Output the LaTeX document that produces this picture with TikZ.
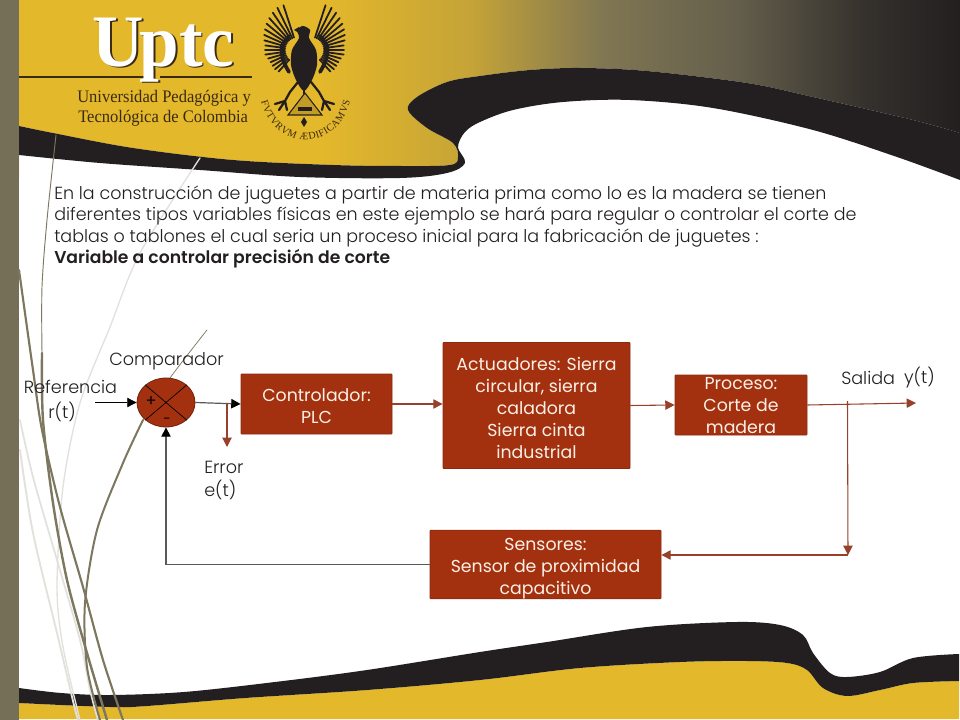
\documentclass[tikz,border=0pt]{standalone}
\usepackage{fontspec}
\setmainfont{Poppins}[UprightFont=* Light,BoldFont=* SemiBold]
\newfontfamily\boxfont{Poppins}
\newfontfamily\logoserif{Liberation Serif}
\newfontfamily\logocond[FakeStretch=0.94]{Liberation Serif}
\newfontfamily\logobold[FakeStretch=0.96]{Liberation Serif Bold}
\usetikzlibrary{shapes.geometric,arrows.meta,decorations.text}
\definecolor{barolive}{HTML}{756F57}
\definecolor{ylw}{HTML}{E4B82B}
\definecolor{ink}{HTML}{231F20}
\definecolor{brick}{HTML}{A3310F}
\definecolor{wire}{HTML}{97402A}
\definecolor{boxtxt}{HTML}{FBF0E6}
\definecolor{wispd}{HTML}{7D7760}
\definecolor{wispl}{HTML}{E2E1DC}
\definecolor{logotxt}{HTML}{3B2A12}
\pgfdeclarehorizontalshading{bannershade}{100bp}{color(0bp)=(ylw);color(41bp)=(ylw);color(49bp)=(ylw!72!barolive);color(56bp)=(barolive!90!ylw);color(63bp)=(barolive!80!ink);color(70bp)=(ink!78!barolive);color(75bp)=(ink);color(100bp)=(ink)}
\tikzset{
  blk/.style={draw=brick!85!black,fill=brick,line width=.6pt,text=boxtxt,align=center,inner sep=0pt,rounded corners=.5pt,font=\boxfont\fontsize{13pt}{16.5pt}\selectfont},
  lbl/.style={text=ink,inner sep=0pt,align=center,font=\fontsize{13.2pt}{17pt}\selectfont},
  tip/.style={-{Triangle[length=7pt,width=7pt]}},
  redw/.style={tip,draw=wire,line width=.8pt},
  darkw/.style={draw=black!65,line width=.9pt,-{Triangle[length=7pt,width=7pt,color=black]}},
  wdark/.style={draw=wispd,line cap=round},
  wlight/.style={draw=wispl,line cap=round},
  feather/.style={draw=ink,line width=1.35pt,line cap=round},
}
\begin{document}
\begin{tikzpicture}[x=.75pt,y=-.75pt]
\useasboundingbox (0,0) rectangle (960,720);
\fill[white] (0,0) rectangle (960,720);
% top banner
\shade[shading=bannershade] (19,0) -- (960,0) -- (960,178) -- (960,133)
  -- plot[smooth,tension=.55] coordinates {(960,133)(913,120)(813,97)(747,83)(647,71)(580,68)(530,70)(480,76)(447,82)(417,97)(408,110)(427,128)(453,143)(458,157)(450,165)(400,166)(333,165)(233,160)(133,148)(53,133)(19,126)} -- (19,178) -- cycle;
\fill[ink] plot[smooth,tension=.55] coordinates {(19,126)(53,133)(133,148)(233,160)(333,165)(400,166)(450,165)(458,157)(453,143)(427,128)(408,110)(417,97)(447,82)(480,76)(530,70)(580,68)(647,71)(747,83)(813,97)(913,120)(960,133)}
  -- plot[smooth,tension=.55] coordinates {(960,180)(897,157)(813,130)(713,108)(630,100)(563,102)(513,110)(480,122)(465,132)(458,147)(465,163)(447,173)(400,178)(300,177)(200,170)(100,163)(19,155)} -- cycle;
% bottom banner
\fill[ylw] (19,719) -- (19,703) -- plot[smooth,tension=.55] coordinates {(19,703)(110,707)(147,706)(245,698)(367,690)(480,680)(580,668)(680,662)(747,661)(787,663)(807,670)(823,688)(847,696)(880,690)(913,683)(959,681)} -- (959,719) -- cycle;
\fill[ink] plot[smooth,tension=.55] coordinates {(19,688)(61,693)(110,695)(184,692)(275,682)(367,670)(480,652)(547,642)(647,627)(737,622)(780,625)(803,635)(813,653)(830,673)(847,677)(880,672)(913,658)(959,654)}
  -- plot[smooth,tension=.55] coordinates {(959,681)(913,683)(880,690)(847,696)(823,688)(807,670)(787,663)(747,661)(680,662)(580,668)(480,680)(367,690)(245,698)(147,706)(110,707)(19,703)} -- cycle;
% left bar
\fill[barolive] (0,0) rectangle (19,720);
% wisps
\draw[wlight,line width=1pt] plot[smooth] coordinates {(200,158)(140,253)(110,327)(80,403)(63,487)(57,587)(63,647)(80,720)};
\draw[wlight,line width=1.3pt] plot[smooth] coordinates {(20,420)(33,477)(57,560)(80,640)(90,690)(98,720)};
\draw[wlight,line width=1.4pt] plot[smooth] coordinates {(20,450)(33,533)(57,633)(76,713)(80,720)};
\draw[wdark,line width=.7pt] plot[smooth] coordinates {(56,135)(47,220)(42,287)(42,353)};
\draw[wdark,line width=1.8pt] plot[smooth] coordinates {(42,353)(43,420)(53,503)(67,580)(87,653)(107,720)};
\draw[wdark,line width=1.6pt] plot[smooth] coordinates {(19,270)(33,370)(42,430)(60,507)(83,587)(103,660)(123,720)};
\draw[wdark,line width=.55pt] plot[smooth] coordinates {(207,330)(170,378)(143,420)};
\draw[wdark,line width=1.5pt] plot[smooth] coordinates {(143,420)(123,463)(97,530)(85,603)(87,667)(100,720)};
% logo
\draw[logotxt,line width=2pt] (19,77) -- (145,77) (160,77) -- (252,77);
\node[anchor=base west,inner sep=0pt,text=logotxt,font=\logobold\fontsize{55.5pt}{56pt}\selectfont] (uptcs) at (94,68) {U\kern-.06em ptc};
\node[anchor=base west,inner sep=0pt,text=white,font=\logobold\fontsize{55.5pt}{56pt}\selectfont] (uptc) at (92.5,66.5) {U\kern-.06em ptc};
\node[anchor=base west,inner sep=0pt,text=logotxt,font=\logocond\fontsize{13.2pt}{14pt}\selectfont] (univa) at (77,103) {Universidad Pedagógica y};
\node[anchor=base west,inner sep=0pt,text=logotxt,font=\logocond\fontsize{13.2pt}{14pt}\selectfont] (univb) at (78,123) {Tecnológica de Colombia};
% eagle
\foreach \a/\r in {108/47,116/47,124/45,132/43,140/41,148/39,156/37,164/35,172/33,180/33,188/33,196/31,204/30,212/30,220/30,228/29}{
  \draw[feather] ({298+13*cos(\a)},{50-13*sin(\a)}) -- ({298+\r*cos(\a)},{50-\r*sin(\a)});
  \draw[feather] ({311-13*cos(\a)},{50-13*sin(\a)}) -- ({311-\r*cos(\a)},{50-\r*sin(\a)});
}
\fill[ink] plot[smooth cycle,tension=.5] coordinates {(303,26)(297,30)(299,38)(292,50)(291,65)(296,80)(304,91)(312,80)(317,65)(316,50)(309,38)(310,30)};
\fill[ink] (299,27) -- (294,30) -- (299,33) -- cycle;
\draw[ink,line width=2.8pt,line cap=round] plot[smooth] coordinates {(289,36)(282,46)(283,60)(289,72)};
\draw[ink,line width=2.8pt,line cap=round] plot[smooth] coordinates {(320,36)(327,46)(326,60)(320,72)};
\draw[ink,line width=1.7pt,line cap=round] (298,82) -- (290,92) -- (285,101) (285,101) -- (275,104) (285,101) -- (279,110) (285,101) -- (287,110);
\draw[ink,line width=1.7pt,line cap=round] (311,82) -- (319,92) -- (324,101) (324,101) -- (334,104) (324,101) -- (330,110) (324,101) -- (322,110);
\draw[ink,line width=.9pt] (304,88) -- (304,94);
\draw[ink,line width=.8pt,fill=ylw!85!black] (305,93) -- (288,115) -- (322,115) -- cycle;
\fill[ink] (298,107) rectangle (312,111);
\fill[ink] (304,117) -- (301,122) -- (304,127) -- (307,122) -- cycle;
\path[postaction={decorate,decoration={text along path,text align=center,reverse path=false,raise=-3pt,
  text={|\logoserif\fontsize{7.6pt}{8pt}\selectfont\color{logotxt}|FVTVRVM ÆDIFICAMVS}}}]
  (264,96) .. controls (270,126) and (292,136) .. (305,136) .. controls (320,136) and (342,126) .. (347,96);
% body text
\node[anchor=north west,inner sep=0pt,text=ink,align=left,font=\fontsize{13.13pt}{16.1pt}\selectfont] (para) at (54,185.5) {En la construcción de juguetes a partir de materia prima como lo es la madera se tienen\\diferentes tipos variables físicas en este ejemplo se hará para regular o controlar el corte de\\tablas o tablones el cual seria un proceso inicial para la fabricación de juguetes :\\{\fontsize{12.9pt}{16.1pt}\selectfont\textbf{Variable a controlar precisión de corte}}};
% diagram
\node[ellipse,draw=brick!70!black,fill=brick,line width=.6pt,minimum width=43.5pt,minimum height=36.75pt,inner sep=0pt] (cmp) at (166,402.5) {};
\draw[black,line width=.5pt] (cmp.north west) -- (cmp.south east) (cmp.north east) -- (cmp.south west);
\node[lbl,text=black,font=\boxfont\fontsize{12pt}{12pt}\selectfont] (plus) at (151,402) {+};
\node[lbl,text=black,font=\boxfont\fontsize{10pt}{10pt}\selectfont] (minus) at (167,421) {-};
\node[blk,minimum width=113.25pt,minimum height=45pt] (ctrl) at (316.5,404) {\rule{0pt}{13pt}Controlador:\\PLC};
\node[blk,minimum width=140.25pt,minimum height=94.5pt] (act) at (536.5,405.5) {\rule{0pt}{13pt}Actuadores: Sierra\\circular, sierra\\caladora\\Sierra cinta\\industrial};
\node[blk,minimum width=99pt,minimum height=45pt] (proc) at (741,405) {};
\node[lbl,text=boxtxt,font=\boxfont\fontsize{13pt}{16.5pt}\selectfont] (proct) at (741,405.5) {Proceso:\\Corte de\\madera};
\node[blk,minimum width=173.25pt,minimum height=50.25pt] (sens) at (545.5,564.5) {\rule{0pt}{15pt}Sensores:\\Sensor de proximidad\\capacitivo};
\node[lbl] (comp) at (166.5,361) {Comparador};
\node[lbl] (refer) at (70.5,387) {Referencia};
\node[lbl] (rt) at (62,412) {r(t)};
\node[lbl,align=left,anchor=north west] (err) at (204,461) {Error\\e(t)};
\node[lbl,anchor=west] (sal) at (841,378) {Salida};
\node[lbl,anchor=east] (yt) at (935,378) {y(t)};
\coordinate (refin) at (95,402.5);
\coordinate (errtap) at (227,404);
\coordinate (errend) at (227,447);
\coordinate (outend) at (916,403);
\coordinate (outtap) at (847.5,401);
\coordinate (fbend) at (848,555);
\draw[draw=black,line width=.6pt,tip] (refin) -- (cmp.west);
\draw[darkw] (cmp.east) -- (ctrl.west);
\draw[redw] (errtap) -- (errend);
\draw[redw] (ctrl.east) -- (ctrl.east -| act.west);
\draw[redw] (act.east) -- (proc.west);
\draw[redw] (proc.east) -- (outend);
\draw[redw] (outtap) -- (fbend);
\draw[redw] (fbend) -- (fbend -| sens.east);
\draw[darkw] (sens.west) -| (cmp.south);
\end{tikzpicture}
\end{document}
